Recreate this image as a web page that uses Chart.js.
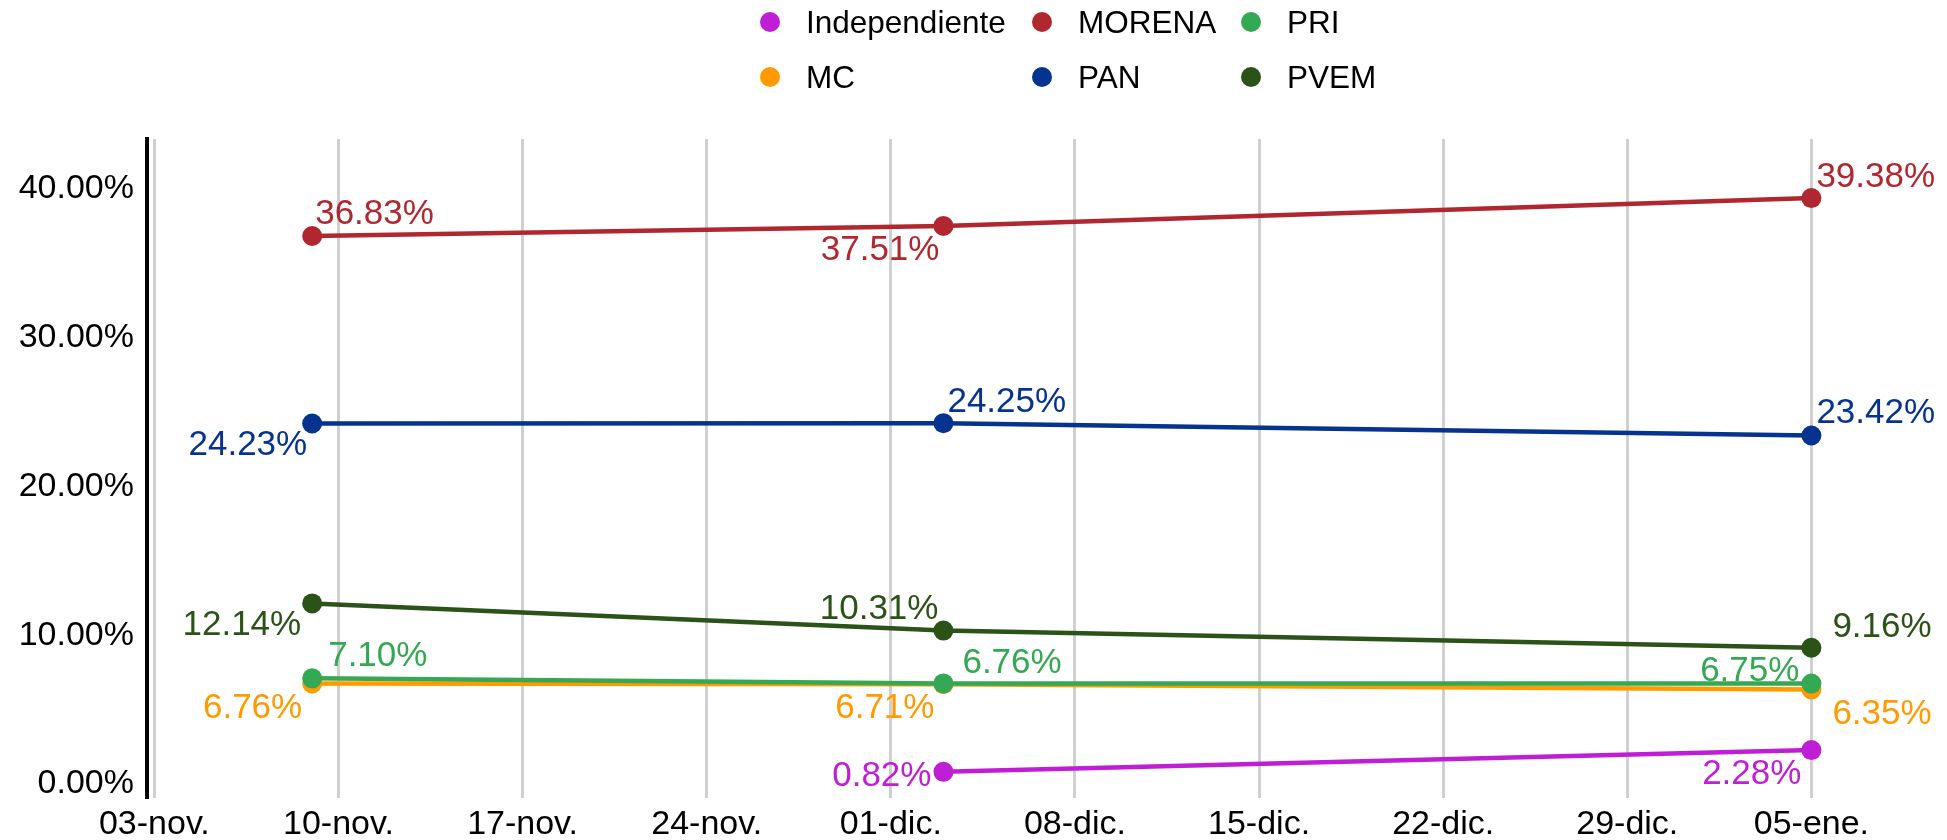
<!DOCTYPE html>
<html>
<head>
<meta charset="utf-8">
<script src="https://cdn.jsdelivr.net/npm/chart.js@4.4.1/dist/chart.umd.min.js"></script>
<style>
  html, body { margin: 0; padding: 0; background: #fff; }
  #wrap { position: relative; width: 1947px; height: 840px; }
  #legend {
    position: absolute; left: 760px; top: 0;
    display: grid; grid-template-columns: 272px 209px auto;
    grid-auto-rows: 55px;
    font-family: "Liberation Sans", Arial, sans-serif; font-size: 31.5px; color: #000;
  }
  #legend .item { display: flex; align-items: center; height: 44px; }
  #legend .dot { width: 20px; height: 20px; border-radius: 50%; margin-right: 26px; flex: none; }
</style>
</head>
<body>
<div id="wrap">
  <canvas id="chart" width="1947" height="840"></canvas>
  <div id="legend"></div>
</div>
<script>
// poll dates as days since 03-nov (09-nov, 03-dic, 05-ene)
const pollDays = [6, 30, 63];
const tickDays = [0, 7, 14, 21, 28, 35, 42, 49, 56, 63];
const tickLabels = ['03-nov.', '10-nov.', '17-nov.', '24-nov.', '01-dic.', '08-dic.', '15-dic.', '22-dic.', '29-dic.', '05-ene.'];
const yTicks = [0, 10, 20, 30, 40];

const parties = ['Independiente', 'MORENA', 'PRI', 'MC', 'PAN', 'PVEM'];
const independiente = [null, 0.82, 2.28];
const morena = [36.83, 37.51, 39.38];
const pri = [7.10, 6.76, 6.75];
const mc = [6.76, 6.71, 6.35];
const pan = [24.23, 24.25, 23.42];
const pvem = [12.14, 10.31, 9.16];

const colors = ['#c01ed6', '#b0272f', '#34a853', '#ff9a00', '#06338f', '#2b5217'];

// label placement per point: side (l/r), horizontal gap, vertical shift
const labelPlace = [
  [null, ['l', 12, 5], ['l', 10, 24]],
  [['r', 3, -22], ['l', 4, 24], ['r', 5, -21]],
  [['r', 16, -22], ['r', 19, -20], ['l', 12, -12]],
  [['l', 10, 25], ['l', 9, 24], ['r', 21, 25]],
  [['l', 5, 22], ['r', 4, -21], ['r', 5, -22]],
  [['l', 11, 22], ['l', 5, -21], ['r', 21, -20]]
];

const series = [independiente, morena, pri, mc, pan, pvem];

const FONT = '"Liberation Sans", Arial, sans-serif';

const legendEl = document.getElementById('legend');
parties.forEach((p, i) => {
  const d = document.createElement('div');
  d.className = 'item';
  d.innerHTML = '<span class="dot" style="background:' + colors[i] + '"></span><span>' + p + '</span>';
  legendEl.appendChild(d);
});

const pointLabels = {
  id: 'pointLabels',
  afterDatasetsDraw(chart) {
    const ctx = chart.ctx;
    ctx.save();
    ctx.font = '35px ' + FONT;
    ctx.textBaseline = 'middle';
    chart.data.datasets.forEach((ds, di) => {
      const meta = chart.getDatasetMeta(di);
      meta.data.forEach((pt, i) => {
        const v = ds.data[i].y;
        const place = labelPlace[di][i];
        if (v === null || !place) return;
        ctx.fillStyle = colors[di];
        ctx.textAlign = place[0] === 'r' ? 'left' : 'right';
        const x = place[0] === 'r' ? pt.x + place[1] : pt.x - place[1];
        ctx.fillText(v.toFixed(2) + '%', x, pt.y + place[2]);
      });
    });
    ctx.restore();
  }
};

new Chart(document.getElementById('chart'), {
  type: 'line',
  data: {
    datasets: series.map((vals, i) => ({
      label: parties[i],
      data: pollDays.map((d, j) => ({ x: d, y: vals[j] })),
      borderColor: colors[i],
      backgroundColor: colors[i],
      borderWidth: 4.5,
      pointRadius: 10,
      pointBorderWidth: 0,
      pointBackgroundColor: colors[i],
      tension: 0,
      spanGaps: false
    }))
  },
  options: {
    responsive: false,
    animation: false,
    layout: { padding: { top: 139, right: 83, bottom: 0, left: 0 } },
    plugins: { legend: { display: false }, tooltip: { enabled: false } },
    scales: {
      x: {
        type: 'linear',
        min: -0.28,
        max: 65,
        afterBuildTicks: (s) => { s.ticks = tickDays.map(v => ({ value: v })); },
        afterFit: (s) => { s.height = 42; },
        ticks: {
          autoSkip: false,
          maxRotation: 0,
          padding: 6,
          color: '#000',
          font: { family: FONT, size: 34 },
          callback: (v) => tickLabels[tickDays.indexOf(v)]
        },
        grid: { color: '#d0d0d0', lineWidth: 3, drawTicks: false },
        border: { display: false }
      },
      y: {
        min: -0.94,
        max: 43.35,
        afterBuildTicks: (s) => { s.ticks = yTicks.map(v => ({ value: v })); },
        afterFit: (s) => { s.width = 147; },
        ticks: {
          padding: 13,
          color: '#000',
          font: { family: FONT, size: 34 },
          callback: (v) => v.toFixed(2) + '%'
        },
        grid: { display: false, drawTicks: false },
        border: { display: true, color: '#000', width: 4 }
      }
    }
  },
  plugins: [pointLabels]
});
</script>
</body>
</html>
